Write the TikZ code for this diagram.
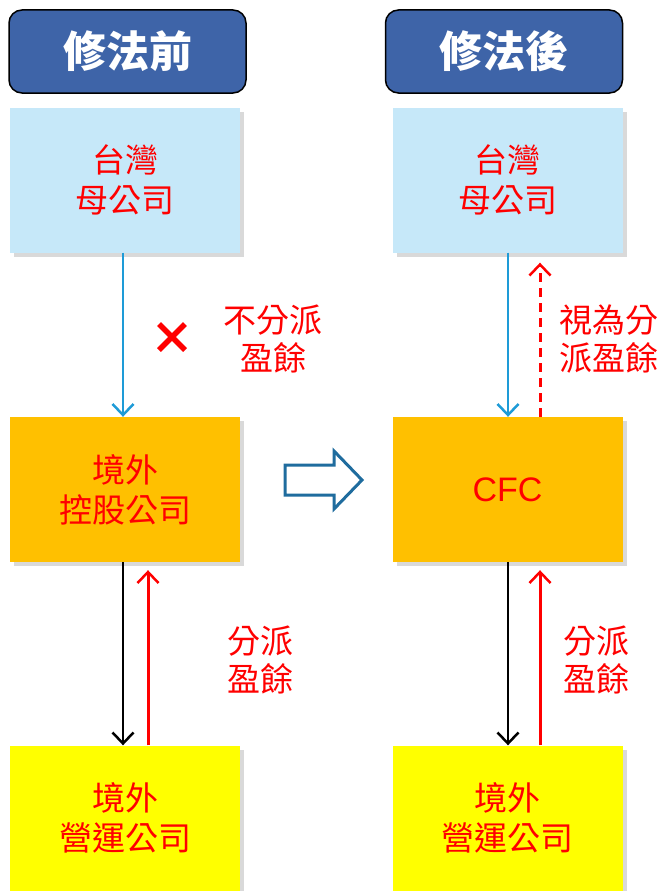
\documentclass[tikz,border=0pt]{standalone}
\usepackage{fontspec}
\setmainfont{Noto Sans CJK TC}
\newfontfamily\latinsans{Liberation Sans}
\usetikzlibrary{arrows.meta,shadows}
\definecolor{hdrblue}{HTML}{3E64A8}
\definecolor{ltblue}{HTML}{C6E8F9}
\definecolor{orng}{HTML}{FFC000}
\definecolor{yel}{HTML}{FFFF00}
\definecolor{arrblue}{HTML}{1E9BD7}
\definecolor{bigarr}{HTML}{1F6C9E}
\tikzset{
  hdr/.style={draw=black, line width=1.5pt, fill=hdrblue, rounded corners=13pt,
    minimum width=237pt, minimum height=83pt, text=white, font=\fontsize{43}{45}\selectfont\bfseries},
  boxbase/.style={minimum width=230pt, minimum height=145pt, align=center, text=red,
    font=\fontsize{33}{40}\selectfont,
    drop shadow={opacity=0.3, shadow xshift=4pt, shadow yshift=-4pt}},
  topbox/.style={boxbase, fill=ltblue},
  midbox/.style={boxbase, fill=orng},
  botbox/.style={boxbase, fill=yel},
  tip/.style={-{Straight Barb[length=11pt,width=21pt,line width=2.5pt]}},
  bluearr/.style={tip, draw=arrblue, line width=2.5pt},
  blackarr/.style={tip, draw=black, line width=2.5pt},
  redarr/.style={tip, draw=red, line width=3pt},
  lbl/.style={text=red, align=center, font=\fontsize{33}{38}\selectfont}
}
\begin{document}
\begin{tikzpicture}[x=1pt,y=-1pt]
\useasboundingbox (0,0) rectangle (664,891);
\node[hdr] (hl) at (127.5,51.5) {修法前};
\node[hdr] (hr) at (504,51.5) {修法後};
\node[topbox] (tl) at (125,180) {台灣\\母公司};
\node[topbox] (tr) at (507.5,180) {台灣\\母公司};
\node[midbox] (ml) at (125,489.5) {境外\\控股公司};
\node[midbox, font=\latinsans\fontsize{34}{40}\selectfont] (mr) at (507.5,489.5) {CFC};
\node[botbox] (bl) at (125,818) {境外\\營運公司};
\node[botbox] (br) at (507.5,818) {境外\\營運公司};
% left side
\draw[bluearr] ([xshift=-2pt]tl.south) -- ([xshift=-2pt]ml.north);
\draw[blackarr] ([xshift=-2pt]ml.south) -- ([xshift=-2pt]bl.north);
\draw[redarr] ([xshift=23pt]bl.north) -- ([xshift=23pt,yshift=-8pt]ml.south);
% right side
\draw[bluearr] ([xshift=0.5pt]tr.south) -- ([xshift=0.5pt]mr.north);
\draw[redarr, dash pattern=on 9pt off 6pt] ([xshift=32.5pt]mr.north) -- ([xshift=32.5pt,yshift=-10pt]tr.south);
\draw[blackarr] ([xshift=0.5pt]mr.south) -- ([xshift=0.5pt]br.north);
\draw[redarr] ([xshift=32.5pt]br.north) -- ([xshift=32.5pt,yshift=-8pt]mr.south);
% X mark
\draw[red, line width=5.5pt] (159,324) -- (185,350) (185,324) -- (159,350);
% labels
\node[lbl] (l1) at (273,339) {不分派\\盈餘};
\node[lbl] (l2) at (260,660) {分派\\盈餘};
\node[lbl] (l3) at (609,339) {視為分\\派盈餘};
\node[lbl] (l4) at (596,660) {分派\\盈餘};
% big outline arrow
\draw[bigarr, line width=3pt, fill=white, line join=miter]
  (285,465) -- (334,465) -- (334,451) -- (362,480) -- (334,509) -- (334,495) -- (285,495) -- cycle;
\end{tikzpicture}
\end{document}
